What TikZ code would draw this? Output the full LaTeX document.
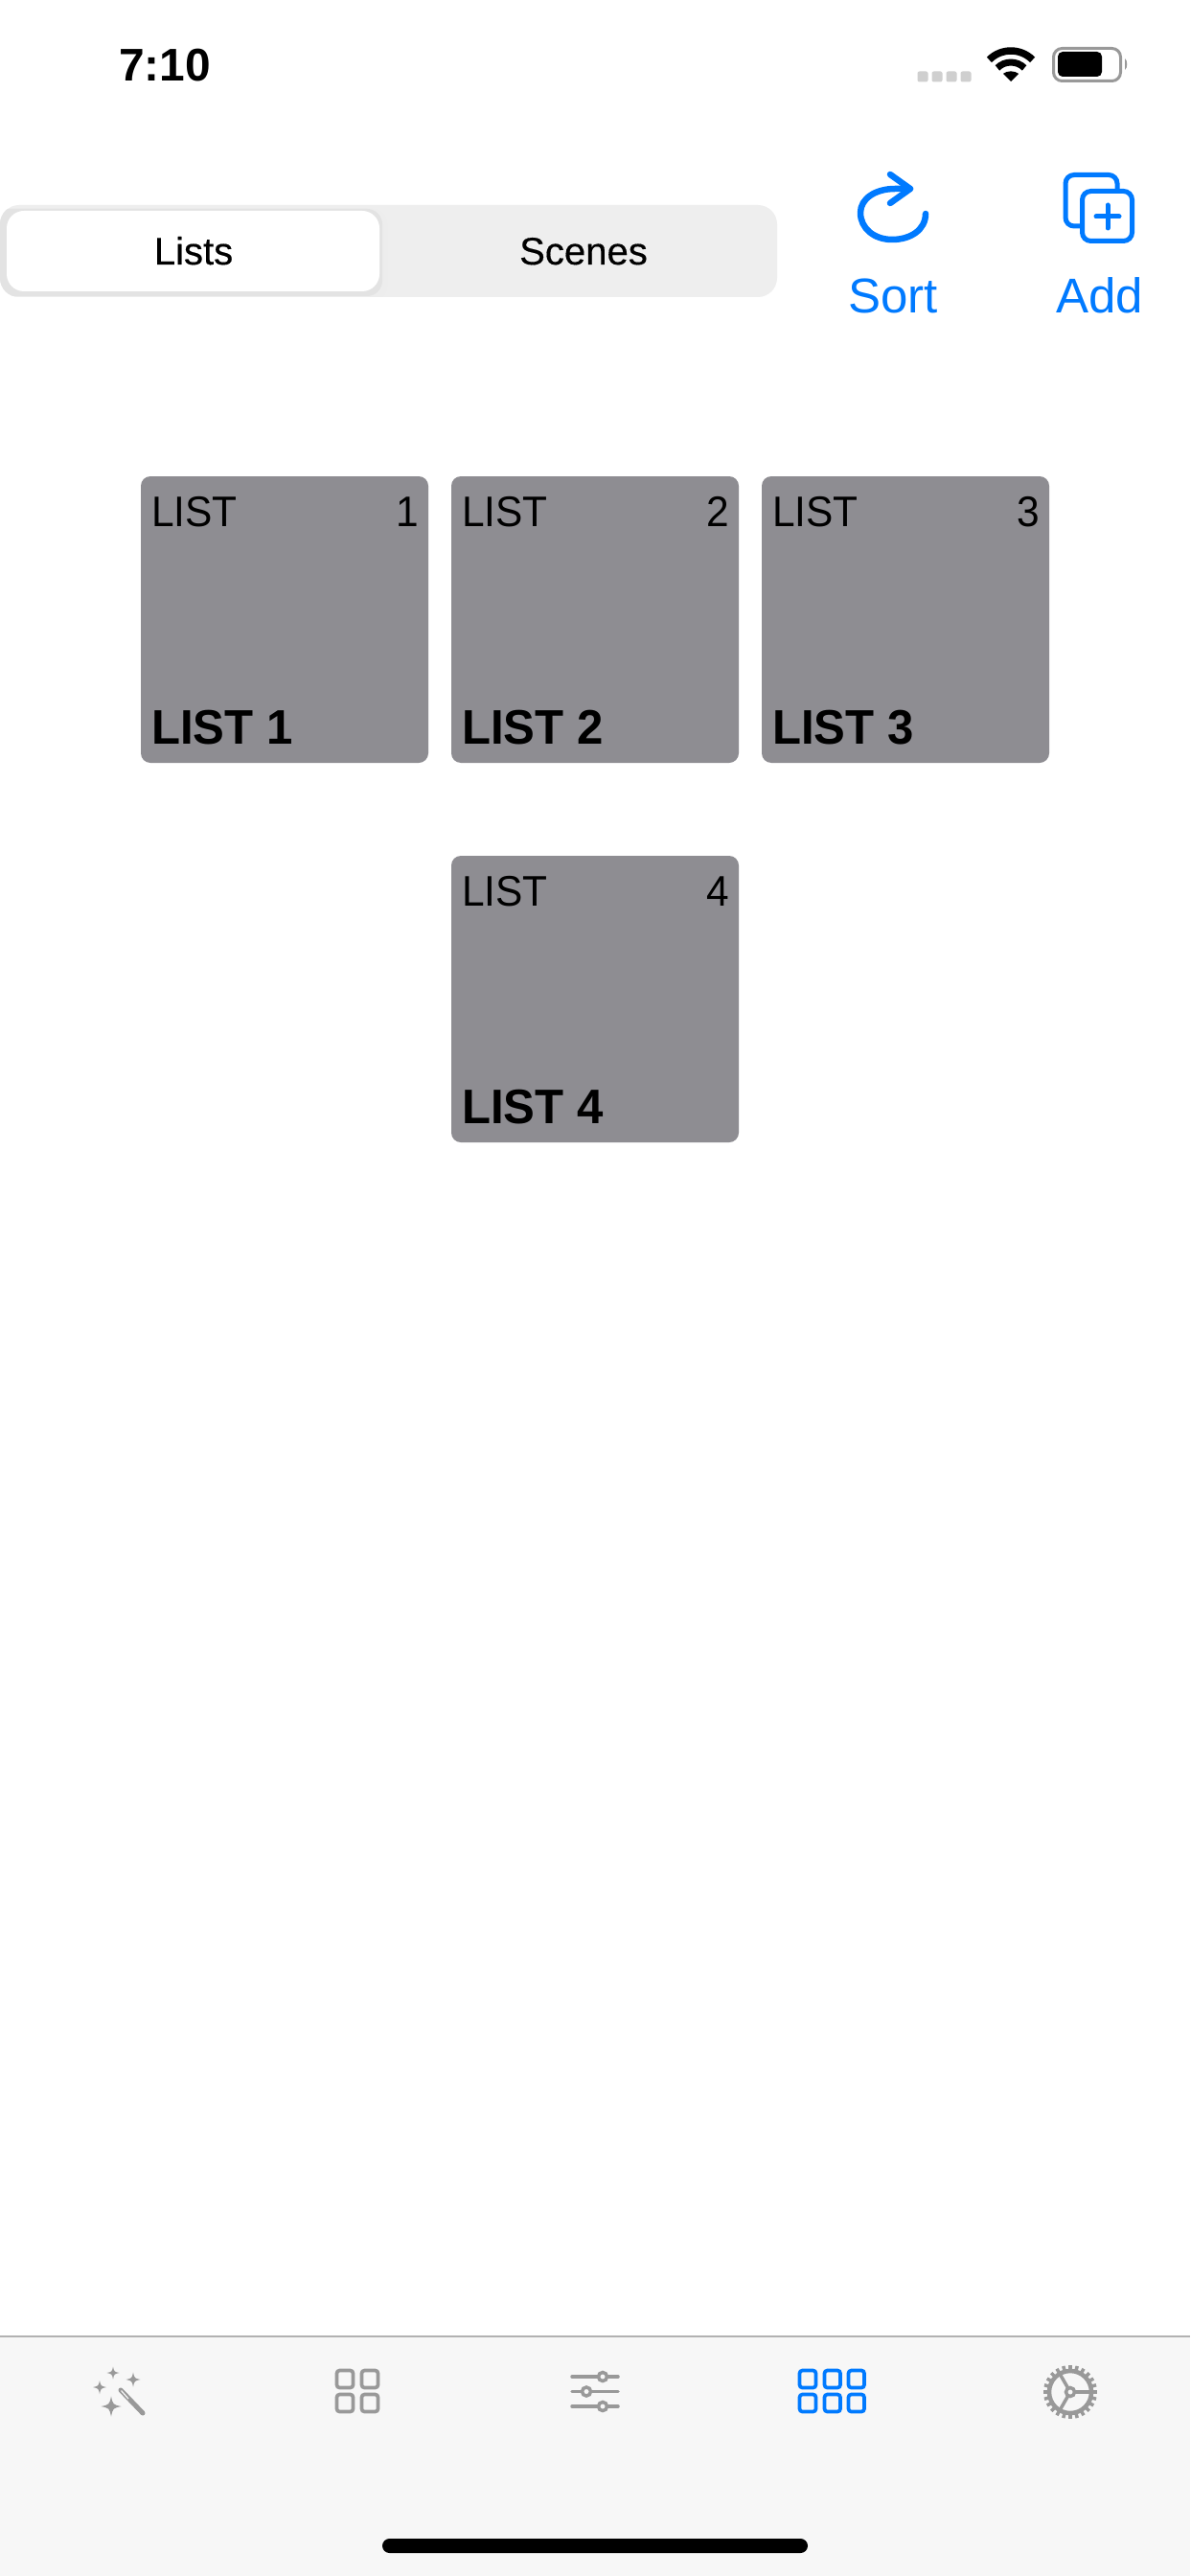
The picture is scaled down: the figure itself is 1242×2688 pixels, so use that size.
\documentclass[tikz,border=0pt]{standalone}
\usepackage{fontspec}
\usetikzlibrary{calc}
\setmainfont{Liberation Sans}
\newfontfamily\smallcardfont[FakeStretch=0.95]{Liberation Sans}
\newfontfamily\bigcardfont[FakeStretch=0.97]{Liberation Sans Bold}
\newfontfamily\segfont[FakeBold=0.3]{Liberation Sans}

\definecolor{iosblue}{HTML}{007AFF}
\definecolor{cardgrey}{HTML}{8E8D92}
\definecolor{tabgrey}{HTML}{999999}
\definecolor{tabbg}{HTML}{F7F7F7}
\definecolor{segbg}{HTML}{EEEEEE}

\tikzset{
  txt/.style={inner sep=0pt, outer sep=0pt},
  cardsmall/.style={txt, font=\smallcardfont\fontsize{12.7}{15}\selectfont},
  cardbig/.style={txt, font=\bigcardfont\fontsize{14.4}{17}\selectfont},
  segtext/.style={txt, anchor=base, font=\segfont\fontsize{11.4}{14}\selectfont},
  actiontext/.style={txt, anchor=base, text=iosblue, font=\fontsize{14.5}{17}\selectfont},
  card/.style={fill=cardgrey, rounded corners=0.1cm},
  tabline/.style={draw=tabgrey, line width=0.035cm},
  bluebox/.style={draw=iosblue, line width=0.037cm, rounded corners=0.03cm},
  greybox/.style={draw=tabgrey, line width=0.037cm, rounded corners=0.03cm}
}

% four pointed star of the wand icon
\newcommand{\sparkle}[3]{
  \fill[tabgrey, shift={(#1,#2)}] (0,-#3) .. controls (0.18*#3,-0.18*#3) .. (#3,0)
    .. controls (0.18*#3,0.18*#3) .. (0,#3)
    .. controls (-0.18*#3,0.18*#3) .. (-#3,0)
    .. controls (-0.18*#3,-0.18*#3) .. cycle;
}

\begin{document}
\begin{tikzpicture}[x=0.01cm, y=-0.01cm]

\useasboundingbox (0,0) rectangle (1242,2688);
\fill[white] (0,0) rectangle (1242,2688);

% Status bar
\node[txt, anchor=base west, font=\fontsize{13.6}{16}\selectfont\bfseries] (clock) at (124,85) {7:10};
\foreach \x in {963,978,993,1008}
  \fill[black!19, rounded corners=0.02cm] (\x-5.5,74.5) rectangle (\x+5.5,85.5);

% Wifi
\draw[line width=0.075cm] (1032.4,62.4) .. controls (1044.9,49.9) and (1065.1,49.9) .. (1077.6,62.4);
\draw[line width=0.07cm] (1040.9,70.9) .. controls (1048.7,63.1) and (1061.3,63.1) .. (1069.1,70.9);
\fill (1055,85) -- (1046.9,76.9) .. controls (1051.5,73.5) and (1058.5,73.5) .. (1063.1,76.9) -- cycle;

% Battery
\draw[draw=black!40, line width=0.03cm, rounded corners=0.09cm] (1099.5,50.5) rectangle (1169.5,84.5);
\fill[rounded corners=0.05cm] (1104,54) rectangle (1150,80);
\fill[black!40] (1174,61) .. controls (1177,63) and (1177,71) .. (1174,73) -- cycle;

% Segmented control
\fill[segbg, rounded corners=0.2cm] (0,214) rectangle (811,310);
\begin{scope}
  \clip[rounded corners=0.2cm] (0,214) rectangle (811,310);
  \fill[black!7, rounded corners=0.16cm] (-6,218) rectangle (404,314);
  \fill[black!11, rounded corners=0.16cm] (-6,218) rectangle (399,309);
\end{scope}
\fill[white, rounded corners=0.18cm] (7,220) rectangle (396,304);
\node[segtext] (lists) at (202,276) {Lists};
\node[segtext] (scenes) at (609,276) {Scenes};

% Sort icon
\draw[iosblue, line width=0.065cm, line cap=round, line join=round]
  (966,223) .. controls (966,240) and (950,250) .. (931,250)
  .. controls (912,250) and (898,238) .. (898,222)
  .. controls (898,207) and (914,197) .. (934,197) -- (950,197);
\draw[iosblue, line width=0.065cm, line cap=round, line join=round] (929,182) -- (950,197) -- (929,212);
\node[actiontext] (sort) at (932,327) {Sort};

% Add icon
\draw[iosblue, line width=0.05cm, rounded corners=0.09cm] (1112,182.5) rectangle (1166,236);
\filldraw[fill=white, draw=iosblue, line width=0.05cm, rounded corners=0.09cm] (1129.5,199.5) rectangle (1181.5,251.5);
\draw[iosblue, line width=0.05cm, line cap=round] (1144,226) -- (1168,226);
\draw[iosblue, line width=0.05cm, line cap=round] (1156,214) -- (1156,238);
\node[actiontext] (add) at (1147.5,327) {Add};

% First row of lists
\fill[card] (147,497) rectangle (447,796);
\node[cardsmall, anchor=base west] (type1) at (158,549) {LIST};
\node[cardsmall, anchor=base east] (num1) at (437,549) {1};
\node[cardbig, anchor=base west] (name1) at (158,776) {LIST 1};

\fill[card] (471,497) rectangle (771,796);
\node[cardsmall, anchor=base west] (type2) at (482,549) {LIST};
\node[cardsmall, anchor=base east] (num2) at (761,549) {2};
\node[cardbig, anchor=base west] (name2) at (482,776) {LIST 2};

\fill[card] (795,497) rectangle (1095,796);
\node[cardsmall, anchor=base west] (type3) at (806,549) {LIST};
\node[cardsmall, anchor=base east] (num3) at (1085,549) {3};
\node[cardbig, anchor=base west] (name3) at (806,776) {LIST 3};

% Second row
\fill[card] (471,893) rectangle (771,1192);
\node[cardsmall, anchor=base west] (type4) at (482,945) {LIST};
\node[cardsmall, anchor=base east] (num4) at (761,945) {4};
\node[cardbig, anchor=base west] (name4) at (482,1172) {LIST 4};

% Tab bar
\fill[tabbg] (0,2438) rectangle (1242,2688);
\draw[draw=black!30, line width=0.015cm] (0,2438) -- (1242,2438);
\fill[rounded corners=0.075cm] (399,2649) rectangle (843,2664);

% Wand
\sparkle{118}{2476}{6.5}
\sparkle{139}{2483}{7.5}
\sparkle{104}{2491}{7}
\sparkle{116}{2511}{10.5}
\draw[tabgrey, line width=0.05cm, line cap=round] (126,2494) -- (149,2518);
\draw[tabbg, line width=0.012cm] (126.5,2494.5) -- (134,2503);

% Two by two grid
\draw[greybox] (351.5,2473.5) rectangle (368.5,2491.5);
\draw[greybox] (377.5,2473.5) rectangle (394.5,2491.5);
\draw[greybox] (351.5,2498.5) rectangle (368.5,2516.5);
\draw[greybox] (377.5,2498.5) rectangle (394.5,2516.5);

% Sliders
\draw[tabline, line cap=round] (597,2480) -- (645,2480);
\draw[tabline, line cap=round] (597,2495.5) -- (645,2495.5);
\draw[tabline, line cap=round] (597,2511) -- (645,2511);
\filldraw[fill=tabbg, tabline] (629,2480) circle (0.045cm);
\filldraw[fill=tabbg, tabline] (612,2495.5) circle (0.045cm);
\filldraw[fill=tabbg, tabline] (629,2511) circle (0.045cm);

% Three by two grid, selected
\draw[bluebox] (834.5,2473.5) rectangle (851.5,2491.5);
\draw[bluebox] (860.5,2473.5) rectangle (877,2491.5);
\draw[bluebox] (885.5,2473.5) rectangle (902,2491.5);
\draw[bluebox] (834.5,2498.5) rectangle (851.5,2516.5);
\draw[bluebox] (860.5,2498.5) rectangle (877,2516.5);
\draw[bluebox] (885.5,2498.5) rectangle (902,2516.5);

% Gear
\coordinate (hub) at (1117,2496);
\draw[tabgrey, line width=0.045cm] (hub) circle (0.22cm);
\foreach \a in {0,15,...,345}
  \draw[tabgrey, line width=0.035cm] ($(hub)+(\a:21)$) -- ($(hub)+(\a:28)$);
\foreach \a in {0,120,240}
  \draw[tabgrey, line width=0.035cm] ($(hub)+(\a:4)$) -- ($(hub)+(\a:22)$);
\draw[tabgrey, line width=0.035cm] (hub) circle (0.045cm);

\end{tikzpicture}
\end{document}
